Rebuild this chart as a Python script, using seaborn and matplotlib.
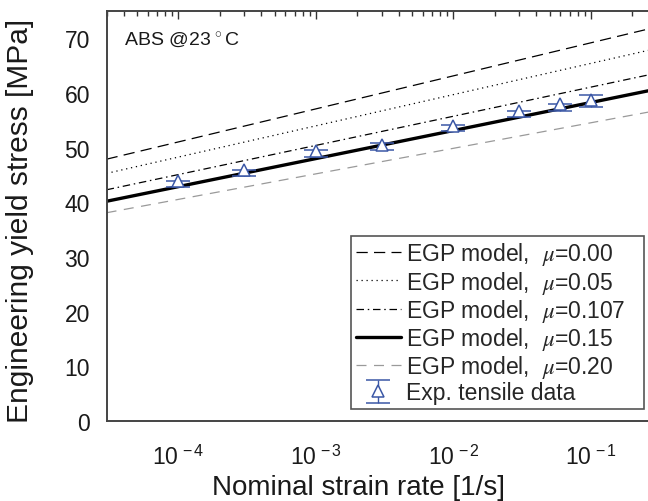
import numpy as np
import pandas as pd
import matplotlib
matplotlib.use("Agg")
import matplotlib.pyplot as plt
from matplotlib.ticker import LogLocator, NullFormatter
import seaborn as sns

# ---- data ----
model_rate = [3.0e-5, 0.26]
mu_labels = ["0.00", "0.05", "0.107", "0.15", "0.20"]
egp_mu000 = [47.9, 71.7]
egp_mu005 = [45.3, 67.8]
egp_mu0107 = [42.3, 63.3]
egp_mu015 = [40.2, 60.4]
egp_mu020 = [38.1, 56.5]

exp_rate = [1e-4, 3e-4, 1e-3, 3e-3, 1e-2, 3e-2, 6e-2, 1e-1]
exp_stress = [43.9, 45.9, 49.4, 50.5, 54.0, 56.7, 58.0, 58.8]
exp_err_low = [1.1, 1.0, 1.1, 1.0, 1.0, 1.1, 1.2, 1.35]
exp_err_up = [0.05, 0.05, 0.2, 0.3, 0.2, 0.1, 0.05, 0.9]

xtick_vals = [1e-4, 1e-3, 1e-2, 1e-1]
xtick_labels = [r"$10^{\,-4}$", r"$10^{\,-3}$", r"$10^{\,-2}$", r"$10^{\,-1}$"]
ytick_vals = [0, 10, 20, 30, 40, 50, 60, 70]

sns.set_theme(style="white")
plt.rcParams["font.family"] = ["Liberation Sans", "DejaVu Sans"]
plt.rcParams["mathtext.fontset"] = "custom"
plt.rcParams["mathtext.rm"] = "Liberation Sans"
plt.rcParams["mathtext.sf"] = "Liberation Sans"
plt.rcParams["mathtext.it"] = "STIXGeneral:italic"

fig = plt.figure(figsize=(6.48, 5.02), dpi=100)
ax = fig.add_axes([0.1645, 0.1594, 0.8355, 0.8166])

blue = "#3b57a6"
series = [
    (egp_mu000, dict(color="black", lw=0.9, dashes=(9, 5))),
    (egp_mu005, dict(color="black", lw=0.9, dashes=(1, 3))),
    (egp_mu0107, dict(color="black", lw=0.9, dashes=(6, 3, 1.2, 3))),
    (egp_mu015, dict(color="black", lw=2.4)),
    (egp_mu020, dict(color="#9a9a9a", lw=0.9, dashes=(8, 6))),
]
pad_txt = "   "
for (vals, st), mu in zip(series, mu_labels):
    df = pd.DataFrame({"rate": model_rate, "stress": vals})
    sns.lineplot(data=df, x="rate", y="stress", ax=ax, color=st["color"], lw=st["lw"],
                 label="EGP model,  $\\mu$=" + mu + pad_txt)
    ln = ax.get_lines()[-1]
    if "dashes" in st:
        ln.set_dashes(st["dashes"])
        ln.set_dash_capstyle("butt")

ax.errorbar(exp_rate, exp_stress, yerr=[exp_err_low, exp_err_up], fmt="^", mfc="white",
            mec=blue, ecolor=blue, ms=9, mew=1.1, elinewidth=1.0, capsize=8.5,
            capthick=1.3, label="Exp. tensile data", zorder=5)

ax.set_xscale("log")
ax.set_xlim(model_rate[0], model_rate[1])
ax.set_ylim(0, 75)
ax.set_xticks(xtick_vals)
ax.set_xticklabels(xtick_labels)
ax.xaxis.set_minor_locator(LogLocator(base=10, subs=np.arange(2, 10), numticks=20))
ax.xaxis.set_minor_formatter(NullFormatter())
ax.set_yticks(ytick_vals)
ax.set_yticklabels([str(v) for v in ytick_vals])

ax.tick_params(axis="both", which="both", direction="in", top=True, right=False,
               colors="#333333", labelcolor="#1a1a1a", labelsize=16.5)
ax.tick_params(axis="both", which="major", length=6, width=1.0)
ax.tick_params(axis="x", which="minor", length=3.5, width=1.0)
ax.tick_params(axis="x", which="major", pad=17)
ax.tick_params(axis="y", which="major", pad=12)

for side in ["left", "bottom", "top"]:
    ax.spines[side].set_color("#444444")
    ax.spines[side].set_linewidth(1.4)
ax.spines["right"].set_visible(False)

ax.set_xlabel("Nominal strain rate [1/s]", fontsize=20, color="#1a1a1a")
ax.set_ylabel("Engineering yield stress [MPa]", fontsize=21.5, color="#1a1a1a")
ax.xaxis.set_label_coords(0.466, -0.129)
ax.yaxis.set_label_coords(-0.135, 0.49)

ax.text(0.032, 0.932, r"ABS @23$\,^\circ$C", transform=ax.transAxes, fontsize=14,
        color="#1a1a1a", va="center", ha="left")

h, l = ax.get_legend_handles_labels()
leg = ax.legend(h, l, loc="lower right", bbox_to_anchor=(0.992, 0.03), fontsize=16.5,
                frameon=True, fancybox=False, edgecolor="#555555", framealpha=1,
                handlelength=1.95, handletextpad=0.22, labelspacing=0.05,
                borderpad=0.2, borderaxespad=0.0)
leg.get_frame().set_linewidth(1.2)

fig.savefig("out.png", dpi=100)
